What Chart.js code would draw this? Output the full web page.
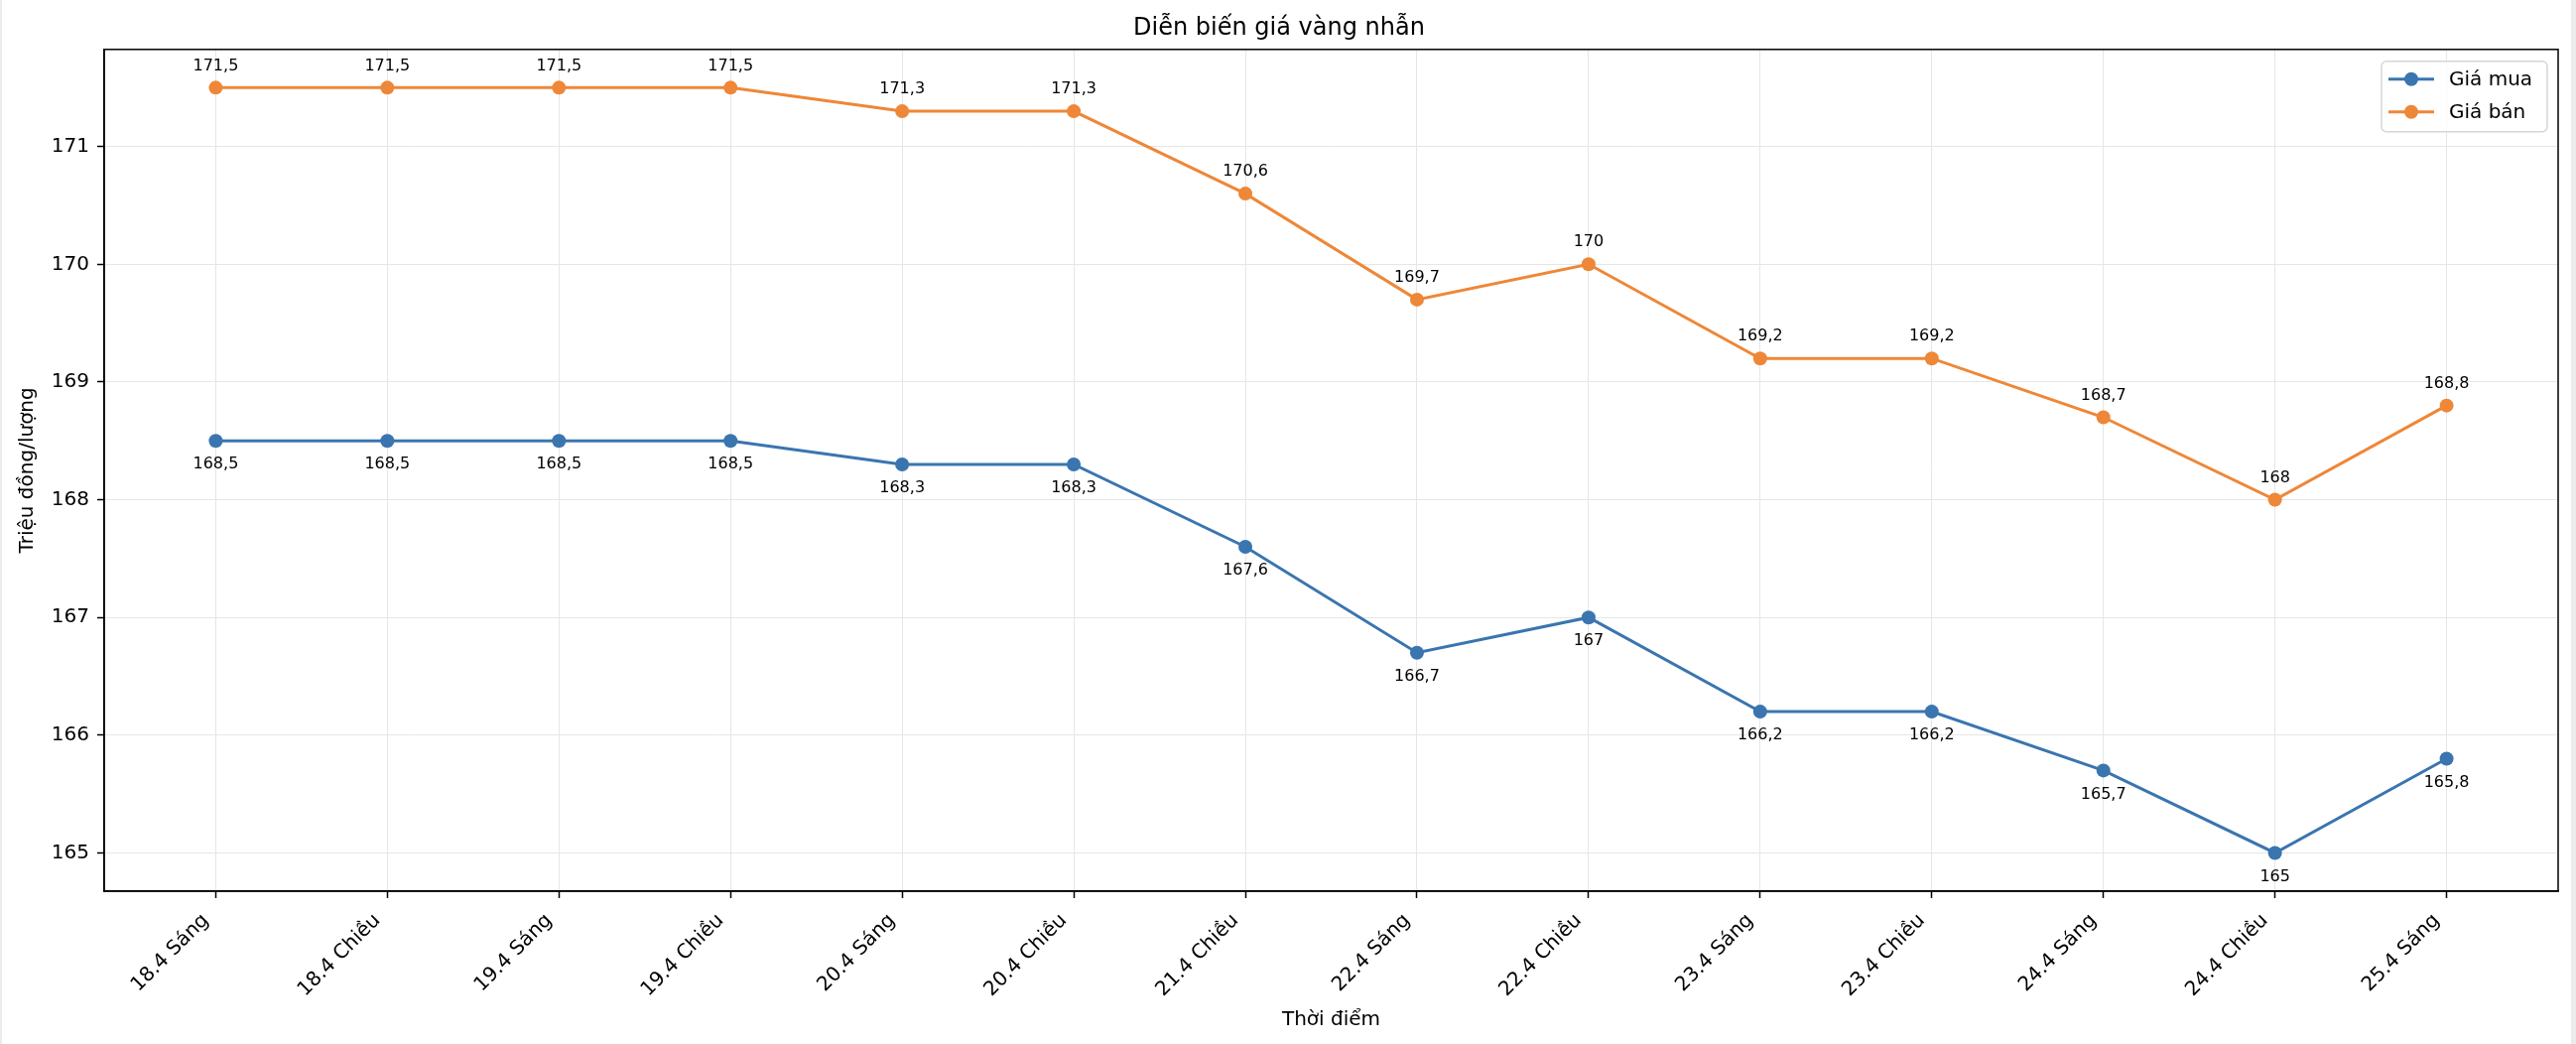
<!DOCTYPE html>
<html>
<head>
<meta charset="utf-8">
<script src="https://cdn.jsdelivr.net/npm/chart.js@4.4.1/dist/chart.umd.min.js"></script>
<style>
html, body { margin: 0; padding: 0; background: #fff; }
#wrap { width: 2596px; height: 1052px; position: relative; }
</style>
</head>
<body>
<div id="wrap"><canvas id="myChart"></canvas></div>
<script>
// du lieu
const labels = ['18.4 Sáng', '18.4 Chiều', '19.4 Sáng', '19.4 Chiều', '20.4 Sáng', '20.4 Chiều', '21.4 Chiều',
  '22.4 Sáng', '22.4 Chiều', '23.4 Sáng', '23.4 Chiều', '24.4 Sáng', '24.4 Chiều', '25.4 Sáng']
const giaMua = [168.5, 168.5, 168.5, 168.5, 168.3, 168.3, 167.6, 166.7, 167, 166.2, 166.2, 165.7, 165, 165.8]
const giaBan = [171.5, 171.5, 171.5, 171.5, 171.3, 171.3, 170.6, 169.7, 170, 169.2, 169.2, 168.7, 168, 168.8]
const yTicks = [165, 166, 167, 168, 169, 170, 171]

const BLUE = '#3a75af'
const ORANGE = '#ee8737'
const FONT = '"DejaVu Sans", sans-serif'

const fmt = v => String(v).replace('.', ',')

// nhan gia tri tren / duoi diem
const valueLabels = {
  id: 'valueLabels',
  afterDatasetsDraw(chart) {
    const ctx = chart.ctx
    ctx.save()
    ctx.font = '16px ' + FONT
    ctx.fillStyle = '#000'
    ctx.textAlign = 'center'
    ctx.textBaseline = 'middle'
    chart.data.datasets.forEach((ds, i) => {
      const meta = chart.getDatasetMeta(i)
      const dy = i === 0 ? 24 : -22
      meta.data.forEach((pt, j) => {
        ctx.fillText(fmt(ds.data[j].y), pt.x, pt.y + dy)
      })
    })
    ctx.restore()
  }
}

// khung + legend kieu matplotlib
const frameLegend = {
  id: 'frameLegend',
  beforeDraw(chart) {
    const ctx = chart.ctx
    ctx.save()
    ctx.fillStyle = '#fff'
    ctx.fillRect(0, 0, chart.width, chart.height)
    ctx.fillStyle = '#ebebeb'
    ctx.fillRect(0, 0, 2, chart.height)
    ctx.fillRect(chart.width - 5, 0, 5, chart.height)
    ctx.restore()
  },
  afterDraw(chart) {
    const ctx = chart.ctx
    const a = chart.chartArea
    ctx.save()
    ctx.strokeStyle = '#000'
    ctx.lineWidth = 1.5
    ctx.strokeRect(a.left, a.top, a.right - a.left, a.bottom - a.top)

    const w = 167, h = 71
    const x0 = a.right - 11 - w, y0 = a.top + 12
    ctx.beginPath()
    ctx.roundRect(x0, y0, w, h, 5)
    ctx.fillStyle = 'rgba(255,255,255,0.8)'
    ctx.fill()
    ctx.strokeStyle = '#d6d6d6'
    ctx.lineWidth = 1.5
    ctx.stroke()

    ctx.font = '20px ' + FONT
    ctx.textBaseline = 'middle'
    ctx.textAlign = 'left'
    chart.data.datasets.forEach((ds, i) => {
      const y = y0 + 18 + i * 33
      ctx.strokeStyle = ds.borderColor
      ctx.lineWidth = 3
      ctx.beginPath()
      ctx.moveTo(x0 + 7, y)
      ctx.lineTo(x0 + 53, y)
      ctx.stroke()
      ctx.fillStyle = ds.borderColor
      ctx.beginPath()
      ctx.arc(x0 + 30, y, 7, 0, Math.PI * 2)
      ctx.fill()
      ctx.fillStyle = '#000'
      ctx.fillText(ds.label, x0 + 68, y + 1)
    })
    ctx.restore()
  }
}

const ctx = document.getElementById('myChart')

const myChart = new Chart(ctx, {
  type: 'line',
  data: {
    datasets: [{
      label: 'Giá mua',
      data: giaMua.map((v, i) => ({ x: i, y: v })),
      borderColor: BLUE,
      backgroundColor: BLUE,
      borderWidth: 3,
      pointRadius: 7,
      pointHoverRadius: 7,
      pointBorderWidth: 0,
      tension: 0
    }, {
      label: 'Giá bán',
      data: giaBan.map((v, i) => ({ x: i, y: v })),
      borderColor: ORANGE,
      backgroundColor: ORANGE,
      borderWidth: 3,
      pointRadius: 7,
      pointHoverRadius: 7,
      pointBorderWidth: 0,
      tension: 0
    }]
  },
  options: {
    responsive: true,
    maintainAspectRatio: false,
    animation: false,
    devicePixelRatio: 1,
    layout: { padding: { left: 0, right: 18, top: 0, bottom: 0 } },
    plugins: {
      legend: { display: false },
      tooltip: { enabled: false },
      title: {
        display: true,
        text: 'Diễn biến giá vàng nhẫn',
        color: '#000',
        font: { family: FONT, size: 24, weight: 'normal' },
        padding: { top: 14, bottom: 7 }
      }
    },
    scales: {
      x: {
        type: 'linear',
        min: -0.65,
        max: 13.65,
        afterBuildTicks: s => { s.ticks = labels.map((_, i) => ({ value: i })) },
        afterFit: s => { s.height = 154 },
        ticks: {
          callback: v => labels[v],
          autoSkip: false,
          maxRotation: 45,
          minRotation: 45,
          color: '#000',
          padding: 11,
          labelOffset: -10,
          font: { family: FONT, size: 20 }
        },
        grid: { color: '#e6e6e6', lineWidth: 1, tickLength: 7, tickColor: '#000', tickWidth: 1.5 },
        border: { color: '#000', width: 1.5 },
        title: {
          display: true,
          text: 'Thời điểm',
          color: '#000',
          font: { family: FONT, size: 20 },
          padding: { top: 0, bottom: 12 }
        }
      },
      y: {
        min: 164.675,
        max: 171.825,
        afterBuildTicks: s => { s.ticks = yTicks.map(v => ({ value: v })) },
        afterFit: s => { s.width = 105 },
        ticks: {
          color: '#000',
          padding: 8,
          font: { family: FONT, size: 20 },
          callback: v => String(v)
        },
        grid: { color: '#e6e6e6', lineWidth: 1, tickLength: 7, tickColor: '#000', tickWidth: 1.5 },
        border: { color: '#000', width: 1.5 },
        title: {
          display: true,
          text: 'Triệu đồng/lượng',
          color: '#000',
          font: { family: FONT, size: 20 },
          padding: { top: 16, bottom: 0 }
        }
      }
    }
  },
  plugins: [valueLabels, frameLegend]
})
</script>
</body>
</html>
